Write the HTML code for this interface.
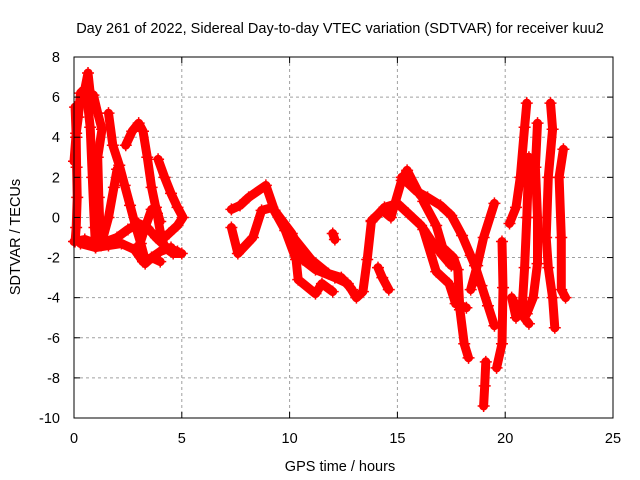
<!DOCTYPE html>
<html><head><meta charset="utf-8"><style>
body{margin:0;background:#fff}
svg{display:block;font-family:"Liberation Sans",sans-serif}
</style></head><body>
<svg id="chart" width="640" height="480" viewBox="0 0 640 480">
<rect width="640" height="480" fill="#fff"/>
<text x="340" y="33" font-size="14.5" text-anchor="middle">Day 261 of 2022, Sidereal Day-to-day VTEC variation (SDTVAR) for receiver kuu2</text>
<g id="grid"></g>
<g id="series"></g>
<g id="axes"></g>
<text x="340" y="471" font-size="14.5" text-anchor="middle">GPS time / hours</text>
<text x="0" y="0" font-size="14.5" text-anchor="middle" transform="translate(20,237) rotate(-90)">SDTVAR / TECUs</text>
</svg>
<script>
const xTicks=[0,5,10,15,20,25];
const yTicks=[-10,-8,-6,-4,-2,0,2,4,6,8];
const trackA1=[[0,2.8],[0.1,4.2],[0.2,5],[0.3,6.2],[0.5,6.4],[0.65,7.2],[0.75,6.2],[0.9,6.1],[1.1,5.2],[1.3,4.4],[1.1,3],[1.15,1],[1.2,-0.5],[1.25,-1.4]];
const trackA2=[[0.05,5.5],[0.1,4],[0.12,2.5],[0.15,1],[0.1,-0.5],[0.05,-1.2]];
const trackA3=[[0.6,6],[0.75,4.5],[0.85,2],[0.95,-0.5],[1.0,-1.5]];
const trackE1=[[0,-1.2],[0.5,-1.1],[1,-1.3],[1.5,-1.2],[2,-1.0],[2.5,-0.6],[3,-0.3],[3.4,-0.5],[3.8,-1.0],[4.3,-1.5],[4.8,-1.7]];
const trackE2=[[0.3,-1.3],[1,-1.5],[1.6,-1.4],[2.2,-1.3],[2.8,-1.6],[3.2,-2.2],[3.6,-2.0],[4,-1.7],[4.5,-1.5]];
const trackB=[[1.6,5.2],[1.8,3.6],[2.1,2.6],[2.35,1.6],[2.6,0.6],[2.85,-0.4],[3.1,-1.3],[3.3,-2.1]];
const trackR1=[[1.3,-1.2],[1.6,0],[1.85,1.5],[2.0,2.4]];
const trackC=[[2.4,3.6],[2.7,4.3],[3.0,4.7],[3.2,4.3],[3.4,3.0],[3.6,1.5],[3.85,0.2],[4.0,-0.7],[4.2,-1.5],[4.6,-1.8],[5,-1.8]];
const trackR2=[[3.0,-1.5],[3.3,-0.5],[3.6,0.4],[3.8,0.5],[4.0,-0.2]];
const trackD=[[3.9,2.9],[4.2,2.0],[4.5,1.2],[4.8,0.5],[5.05,0],[4.8,-0.4],[4.4,-0.8],[4.0,-1.2]];
const trackDip=[[3.0,-1.4],[3.3,-2.3],[3.6,-2.0],[4,-2.2]];
const trackM1=[[7.3,0.4],[7.7,0.6],[8.1,1.0],[8.9,1.6],[9.3,0.35],[10.1,-0.8],[10.6,-2.1],[11.2,-2.6],[12.1,-3],[12.7,-3.3],[13.1,-4],[13.4,-3.7],[13.6,-2.1],[13.8,-0.15],[14.3,0.35],[14.7,0],[15.2,1.85],[15.45,2.35],[16,1.2],[16.3,0.8]];
const trackM2=[[7.3,-0.5],[7.6,-1.8],[8.3,-1],[8.7,0.35],[9.2,0.5],[9.8,-0.65],[10.3,-2.1],[10.4,-3.1],[11.2,-3.8],[11.5,-3.3],[12,-3.7]];
const trackM3=[[10.1,-0.9],[11,-2.1],[11.8,-2.8],[12.4,-3],[12.9,-3.6]];
const trackM4=[[12,-0.8],[12.1,-1.1]];
const trackM5=[[14.1,-2.5],[14.3,-3.0],[14.6,-3.6]];
const trackM6=[[13.8,-0.2],[14.4,0.5],[15,0.7],[15.5,0.2],[16.1,-0.4],[16.6,-1.2],[17.1,-1.9],[17.5,-2.4]];
const trackS1=[[15.2,2],[15.9,1.3],[16.4,1.0],[17.0,0.6],[17.5,0.1],[18,-0.9],[18.4,-1.9],[18.6,-2.4],[18.9,-3.4],[19.2,-4.4],[19.5,-5.4]];
const trackS2=[[16.2,0.8],[16.8,-0.4],[17.1,-1.5],[17.6,-2.0],[17.8,-2.6],[17.9,-4.6],[18.1,-6.3],[18.3,-7.0]];
const trackS3=[[16.2,-0.6],[16.8,-2.7],[17.4,-3.3],[17.7,-4.3],[18.2,-4.5]];
const trackS4=[[18.4,-3.6],[18.7,-2.4],[19.0,-1.0],[19.5,0.7]];
const trackS5=[[19.1,-7.2],[19.05,-8.4],[19.0,-9.4]];
const trackS6=[[19.85,-1.2],[19.9,-3.5],[19.85,-6.3],[19.6,-7.5]];
const trackS7=[[20.2,-0.3],[20.5,0.5],[20.7,2],[20.9,4.5],[21.0,5.7]];
const trackS8=[[21.1,3],[21.0,0],[20.9,-2.5],[20.8,-4.3],[20.5,-5.0],[20.3,-4.0],[20.6,-4.6],[21.1,-5.3]];
const trackS9=[[21.5,4.7],[21.4,2.5],[21.5,0],[21.5,-2.3],[21.3,-4.0],[21.0,-4.8]];
const trackS10=[[22.1,5.7],[22.2,4.4],[22.0,2],[21.9,-1.0],[22.0,-2.5],[22.2,-4],[22.3,-5.5]];
const trackS11=[[22.7,3.4],[22.5,2],[22.6,-1],[22.6,-3.6],[22.8,-4]];
const tracks=[trackA1,trackA2,trackA3,trackE1,trackE2,trackB,trackR1,trackC,trackR2,trackD,trackDip,trackM1,trackM2,trackM3,trackM4,trackM5,trackM6,trackS1,trackS2,trackS3,trackS4,trackS5,trackS6,trackS7,trackS8,trackS9,trackS10,trackS11];

const X0=74,X1=613,Y0=418,Y1=57,xmin=0,xmax=25,ymin=-10,ymax=8;
function sx(t){return X0+(t-xmin)/(xmax-xmin)*(X1-X0);}
function sy(v){return Y0-(v-ymin)/(ymax-ymin)*(Y0-Y1);}
const NS="http://www.w3.org/2000/svg";
function mk(tag,attrs,parent){const e=document.createElementNS(NS,tag);for(const k in attrs)e.setAttribute(k,attrs[k]);parent.appendChild(e);return e;}
const grid=document.getElementById('grid'),axes=document.getElementById('axes'),series=document.getElementById('series');
xTicks.forEach(t=>{
  const x=sx(t);
  if(t>xmin&&t<xmax){const g=mk('line',{x1:x,x2:x,y1:Y1,y2:Y0,stroke:'#a0a0a0','stroke-dasharray':'3,3'},grid);
  
  }
  mk('line',{x1:x,x2:x,y1:Y0,y2:Y0-6,stroke:'#000'},axes);
  mk('line',{x1:x,x2:x,y1:Y1,y2:Y1+6,stroke:'#000'},axes);
  const l=mk('text',{x:x,y:Y0+25,'font-size':'14.5','text-anchor':'middle'},axes);
  l.textContent=t;
  
  
});
yTicks.forEach(v=>{
  const y=sy(v);
  if(v>ymin&&v<ymax){const g=mk('line',{x1:X0,x2:X1,y1:y,y2:y,stroke:'#a0a0a0','stroke-dasharray':'3,3'},grid);
  
  }
  mk('line',{x1:X0,x2:X0+6,y1:y,y2:y,stroke:'#000'},axes);
  mk('line',{x1:X1,x2:X1-6,y1:y,y2:y,stroke:'#000'},axes);
  const l=mk('text',{x:X0-14,y:y+5,'font-size':'14.5','text-anchor':'end'},axes);
  l.textContent=v;
  
  
});
const fr=mk('rect',{x:X0,y:Y1,width:X1-X0,height:Y0-Y1,fill:'none',stroke:'#000'},axes);


tracks.forEach(tr=>{
  const pts=tr.map(p=>sx(p[0]).toFixed(1)+','+sy(p[1]).toFixed(1)).join(' ');
  const pl=mk('polyline',{points:pts,fill:'none',stroke:'#f00','stroke-width':9,'stroke-linejoin':'round','stroke-linecap':'round'},series);
  
  
  tr.forEach(p=>{
    const x=sx(p[0]),y=sy(p[1]);
    const m=mk('path',{d:`M${x-6},${y}H${x+6}M${x},${y-6}V${y+6}`,stroke:'#f00','stroke-width':1.5},series);
    
    
  });
});
</script>
</body></html>
